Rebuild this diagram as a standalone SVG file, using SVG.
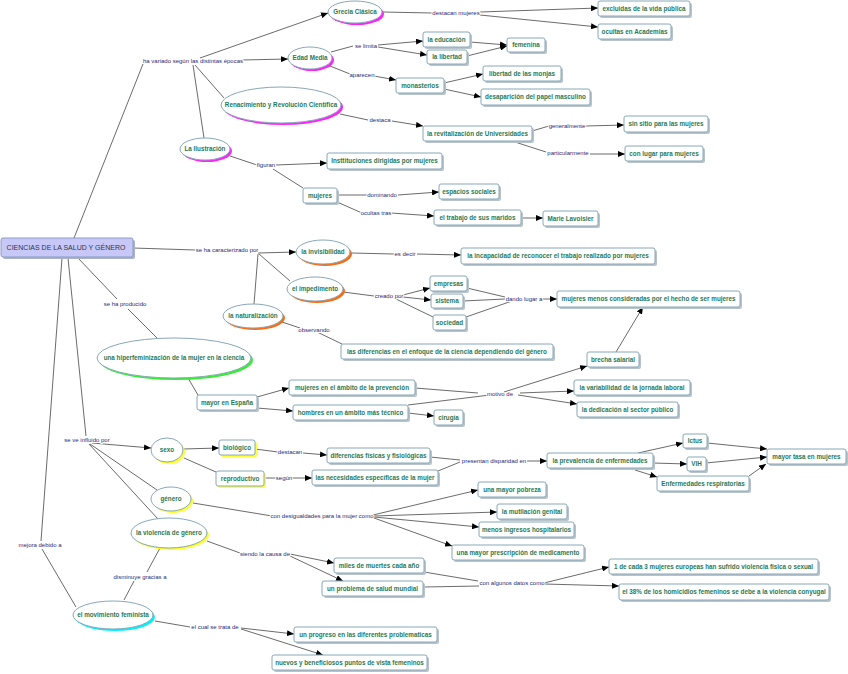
<svg xmlns="http://www.w3.org/2000/svg" width="848" height="674" viewBox="0 0 848 674">
<style>
.bg{fill:#ffffff}
.c line{stroke:#5a5a5a;stroke-width:0.9;fill:none}
.c line.a{marker-end:url(#ah)}
.rs{fill:#b9c3ca}
.r{fill:#ffffff;stroke:#88a8b8;stroke-width:1}
.ys{fill:#ffff33}
.es{stroke:none}
.e{fill:#ffffff;stroke:#88a8b8;stroke-width:1}
.m{fill:#ff22ff}.o{fill:#ff6a10}.g{fill:#33ee33}.y{fill:#ffff22}.cy{fill:#00f0ff}
.t{font-family:"Liberation Sans",Arial,sans-serif;font-size:6.3px;font-weight:bold;fill:#1f7a55;text-anchor:middle}
.l{font-family:"Liberation Sans",Arial,sans-serif;font-size:6px;fill:#2a2a78;text-anchor:middle;paint-order:stroke;stroke:#ffffff;stroke-width:2px;stroke-linejoin:round}
.root{fill:#c8c8f8;stroke:#8a9cc4;stroke-width:1}
.rt{font-family:"Liberation Sans",Arial,sans-serif;font-size:7px;fill:#333344;text-anchor:middle}
</style>
<defs>
<marker id="ah" markerUnits="userSpaceOnUse" markerWidth="7" markerHeight="6" refX="7" refY="3" orient="auto">
<path d="M0,0 L7,3 L0,6 z" fill="#000000"/>
</marker>
</defs>
<rect class="bg" x="0" y="0" width="848" height="674"/>

<g id="connectors" class="c">
<line x1="74" y1="238" x2="143" y2="64"/>
<line class="a" x1="200" y1="58" x2="328" y2="13"/>
<line class="a" x1="242" y1="60" x2="288" y2="59"/>
<line x1="195" y1="65" x2="224" y2="98"/>
<line x1="193" y1="65" x2="204" y2="138"/>
<line x1="383" y1="12" x2="432" y2="13"/>
<line class="a" x1="480" y1="12" x2="598" y2="8"/>
<line class="a" x1="480" y1="15" x2="598" y2="27"/>
<line x1="331" y1="52" x2="353" y2="46"/>
<line class="a" x1="378" y1="45" x2="423" y2="41"/>
<line class="a" x1="378" y1="47" x2="427" y2="55"/>
<line class="a" x1="470" y1="42" x2="507" y2="45"/>
<line class="a" x1="467" y1="56" x2="507" y2="46"/>
<line x1="330" y1="66" x2="350" y2="74"/>
<line class="a" x1="374" y1="76" x2="396" y2="80"/>
<line class="a" x1="444" y1="83" x2="483" y2="74"/>
<line class="a" x1="444" y1="89" x2="481" y2="97"/>
<line x1="340" y1="114" x2="368" y2="120"/>
<line class="a" x1="392" y1="121" x2="423" y2="126"/>
<line x1="532" y1="131" x2="549" y2="126"/>
<line class="a" x1="586" y1="126" x2="624" y2="125"/>
<line x1="515" y1="142" x2="546" y2="152"/>
<line class="a" x1="590" y1="154" x2="625" y2="154"/>
<line x1="230" y1="156" x2="257" y2="165"/>
<line class="a" x1="276" y1="165" x2="327" y2="163"/>
<line x1="273" y1="169" x2="303" y2="188"/>
<line x1="337" y1="195" x2="367" y2="195"/>
<line class="a" x1="398" y1="195" x2="439" y2="192"/>
<line x1="337" y1="202" x2="362" y2="213"/>
<line class="a" x1="391" y1="213" x2="434" y2="216"/>
<line class="a" x1="521" y1="218" x2="543" y2="218"/>
<line x1="133" y1="248" x2="195" y2="250"/>
<line class="a" x1="258" y1="253" x2="296" y2="252"/>
<line x1="259" y1="254" x2="290" y2="281"/>
<line x1="258" y1="254" x2="254" y2="304"/>
<line x1="351" y1="253" x2="394" y2="254"/>
<line class="a" x1="417" y1="254" x2="461" y2="255"/>
<line x1="343" y1="292" x2="374" y2="296"/>
<line class="a" x1="403" y1="295" x2="430" y2="288"/>
<line class="a" x1="403" y1="297" x2="431" y2="300"/>
<line x1="396" y1="299" x2="433" y2="317"/>
<line x1="467" y1="288" x2="505" y2="297"/>
<line x1="463" y1="301" x2="505" y2="299"/>
<line x1="466" y1="317" x2="512" y2="301"/>
<line class="a" x1="542" y1="299" x2="557" y2="299"/>
<line x1="282" y1="322" x2="300" y2="328"/>
<line x1="317" y1="332" x2="342" y2="344"/>
<line class="a" x1="616" y1="352" x2="643" y2="307"/>
<line x1="78" y1="258" x2="117" y2="299"/>
<line x1="128" y1="309" x2="157" y2="338"/>
<line x1="188" y1="378" x2="198" y2="395"/>
<line class="a" x1="257" y1="397" x2="289" y2="388"/>
<line class="a" x1="257" y1="408" x2="293" y2="411"/>
<line x1="415" y1="388" x2="478" y2="393"/>
<line x1="408" y1="405" x2="490" y2="395"/>
<line class="a" x1="504" y1="392" x2="587" y2="366"/>
<line class="a" x1="520" y1="393" x2="574" y2="391"/>
<line class="a" x1="518" y1="395" x2="577" y2="404"/>
<line class="a" x1="408" y1="413" x2="434" y2="416"/>
<line x1="68" y1="258" x2="86" y2="436"/>
<line class="a" x1="92" y1="443" x2="151" y2="448"/>
<line x1="90" y1="444" x2="157" y2="490"/>
<line x1="89" y1="444" x2="158" y2="519"/>
<line class="a" x1="183" y1="449" x2="219" y2="448"/>
<line x1="184" y1="458" x2="216" y2="472"/>
<line x1="255" y1="449" x2="278" y2="452"/>
<line class="a" x1="303" y1="453" x2="327" y2="455"/>
<line x1="264" y1="478" x2="276" y2="478"/>
<line class="a" x1="292" y1="478" x2="312" y2="478"/>
<line x1="430" y1="457" x2="460" y2="460"/>
<line x1="438" y1="471" x2="460" y2="462"/>
<line class="a" x1="527" y1="461" x2="547" y2="461"/>
<line class="a" x1="638" y1="453" x2="683" y2="443"/>
<line class="a" x1="653" y1="463" x2="687" y2="464"/>
<line class="a" x1="635" y1="470" x2="657" y2="477"/>
<line class="a" x1="707" y1="443" x2="767" y2="449"/>
<line class="a" x1="706" y1="463" x2="767" y2="457"/>
<line class="a" x1="749" y1="476" x2="766" y2="464"/>
<line x1="193" y1="503" x2="272" y2="516"/>
<line class="a" x1="373" y1="515" x2="478" y2="490"/>
<line class="a" x1="374" y1="516" x2="497" y2="512"/>
<line class="a" x1="374" y1="517" x2="479" y2="527"/>
<line class="a" x1="374" y1="518" x2="452" y2="546"/>
<line x1="207" y1="541" x2="240" y2="553"/>
<line class="a" x1="290" y1="554" x2="334" y2="563"/>
<line class="a" x1="290" y1="556" x2="343" y2="581"/>
<line x1="424" y1="572" x2="478" y2="581"/>
<line x1="423" y1="587" x2="479" y2="586"/>
<line class="a" x1="544" y1="583" x2="609" y2="567"/>
<line class="a" x1="544" y1="584" x2="619" y2="586"/>
<line x1="124" y1="600" x2="134" y2="581"/>
<line x1="147" y1="572" x2="160" y2="548"/>
<line x1="62" y1="258" x2="41" y2="541"/>
<line x1="42" y1="549" x2="76" y2="607"/>
<line x1="155" y1="621" x2="190" y2="627"/>
<line class="a" x1="241" y1="628" x2="294" y2="634"/>
<line class="a" x1="241" y1="629" x2="323" y2="655"/>
</g>

<g id="linking-phrases">
<text class="l" x="193" y="63">ha variado según las distintas épocas</text>
<text class="l" x="456" y="15">destacan mujeres</text>
<text class="l" x="366" y="48">se limita</text>
<text class="l" x="362" y="77">aparecen</text>
<text class="l" x="380" y="122">destaca</text>
<text class="l" x="567" y="128">generalmente</text>
<text class="l" x="568" y="155">particularmente</text>
<text class="l" x="266" y="167">figuran</text>
<text class="l" x="382" y="197">dominando</text>
<text class="l" x="376" y="215">ocultas tras</text>
<text class="l" x="227" y="252">se ha caracterizado por</text>
<text class="l" x="405" y="256">es decir</text>
<text class="l" x="389" y="298">creado por</text>
<text class="l" x="524" y="301">dando lugar a</text>
<text class="l" x="125" y="306">se ha producido</text>
<text class="l" x="314" y="332">observando</text>
<text class="l" x="500" y="396">motivo de</text>
<text class="l" x="87" y="442">se ve influido por</text>
<text class="l" x="290" y="454">destacan</text>
<text class="l" x="284" y="480">según</text>
<text class="l" x="494" y="463">presentan disparidad en</text>
<text class="l" x="322" y="518">con desigualdades para la mujer como</text>
<text class="l" x="40" y="547">mejora debido a</text>
<text class="l" x="265" y="556">siendo la causa de</text>
<text class="l" x="140" y="579">disminuye gracias a</text>
<text class="l" x="512" y="585">con algunos datos como</text>
<text class="l" x="215" y="629">el cual se trata de</text>
</g>

<g id="n-root"><rect x="3" y="240" width="132" height="19" rx="2" fill="#aab4c4"/><rect class="root" x="1" y="238" width="132" height="19" rx="2"/><text class="rt" x="66" y="250.4">CIENCIAS DE LA SALUD Y GÉNERO</text></g>

<g id="n-grecia"><ellipse class="es m" cx="357" cy="14" rx="27" ry="11"/><ellipse class="e" cx="355" cy="12" rx="27" ry="11"/><text class="t" x="355" y="14.2">Grecia Clásica</text></g>
<g id="n-edad"><ellipse class="es m" cx="312" cy="60" rx="22" ry="11"/><ellipse class="e" cx="310" cy="58" rx="22" ry="11"/><text class="t" x="310" y="60.2">Edad Media</text></g>
<g id="n-renac"><ellipse class="es m" cx="283" cy="107" rx="60" ry="18"/><ellipse class="e" cx="281" cy="105" rx="60" ry="18"/><text class="t" x="281" y="107.2">Renacimiento y Revolución Científica</text></g>
<g id="n-ilus"><ellipse class="es m" cx="207" cy="151" rx="25" ry="11"/><ellipse class="e" cx="205" cy="149" rx="25" ry="11"/><text class="t" x="205" y="151.2">La Ilustración</text></g>
<g id="n-invis"><ellipse class="es o" cx="325" cy="254" rx="27" ry="12"/><ellipse class="e" cx="323" cy="252" rx="27" ry="12"/><text class="t" x="323" y="254.2">la invisibilidad</text></g>
<g id="n-imped"><ellipse class="es o" cx="317" cy="291" rx="28" ry="12"/><ellipse class="e" cx="315" cy="289" rx="28" ry="12"/><text class="t" x="315" y="291.2">el impedimento</text></g>
<g id="n-natur"><ellipse class="es o" cx="255" cy="318" rx="30" ry="12"/><ellipse class="e" cx="253" cy="316" rx="30" ry="12"/><text class="t" x="253" y="318.2">la naturalización</text></g>
<g id="n-hiper"><ellipse class="es g" cx="176" cy="360" rx="77" ry="20"/><ellipse class="e" cx="174" cy="358" rx="77" ry="20"/><text class="t" x="174" y="360.2">una hiperfeminización de la mujer en la ciencia</text></g>
<g id="n-sexo"><ellipse class="es y" cx="169" cy="452" rx="16" ry="12"/><ellipse class="e" cx="167" cy="450" rx="16" ry="12"/><text class="t" x="167" y="452.2">sexo</text></g>
<g id="n-genero"><ellipse class="es y" cx="173" cy="501" rx="20" ry="12"/><ellipse class="e" cx="171" cy="499" rx="20" ry="12"/><text class="t" x="171" y="501.2">género</text></g>
<g id="n-violencia"><ellipse class="es y" cx="171" cy="535" rx="38" ry="15"/><ellipse class="e" cx="169" cy="533" rx="38" ry="15"/><text class="t" x="169" y="535.2">la violencia de género</text></g>
<g id="n-movim"><ellipse class="es cy" cx="115" cy="617" rx="40" ry="14"/><ellipse class="e" cx="113" cy="615" rx="40" ry="14"/><text class="t" x="113" y="617.2">el movimiento feminista</text></g>

<g id="n1"><rect class="rs" x="600" y="3" width="92" height="15" rx="2"/><rect class="r" x="598" y="1" width="92" height="15" rx="2"/><text class="t" x="644" y="10.7">excluidas de la vida pública</text></g>
<g id="n2"><rect class="rs" x="600" y="26" width="73" height="15" rx="2"/><rect class="r" x="598" y="24" width="73" height="15" rx="2"/><text class="t" x="634.5" y="33.7">ocultas en Academias</text></g>
<g id="n3"><rect class="rs" x="425" y="34" width="47" height="15" rx="2"/><rect class="r" x="423" y="32" width="47" height="15" rx="2"/><text class="t" x="446.5" y="41.7">la educación</text></g>
<g id="n4"><rect class="rs" x="429" y="52" width="40" height="14" rx="2"/><rect class="r" x="427" y="50" width="40" height="14" rx="2"/><text class="t" x="447" y="59.2">la libertad</text></g>
<g id="n5"><rect class="rs" x="509" y="40" width="38" height="14" rx="2"/><rect class="r" x="507" y="38" width="38" height="14" rx="2"/><text class="t" x="526" y="47.2">femenina</text></g>
<g id="n6"><rect class="rs" x="485" y="68" width="78" height="15" rx="2"/><rect class="r" x="483" y="66" width="78" height="15" rx="2"/><text class="t" x="522" y="75.7">libertad de las monjas</text></g>
<g id="n7"><rect class="rs" x="398" y="80" width="48" height="15" rx="2"/><rect class="r" x="396" y="78" width="48" height="15" rx="2"/><text class="t" x="420" y="87.7">monasterios</text></g>
<g id="n8"><rect class="rs" x="483" y="91" width="109" height="16" rx="2"/><rect class="r" x="481" y="89" width="109" height="16" rx="2"/><text class="t" x="535.5" y="99.2">desaparición del papel masculino</text></g>
<g id="n9"><rect class="rs" x="425" y="128" width="109" height="15" rx="2"/><rect class="r" x="423" y="126" width="109" height="15" rx="2"/><text class="t" x="477.5" y="135.7">la revitalización de Universidades</text></g>
<g id="n10"><rect class="rs" x="626" y="118" width="84" height="16" rx="2"/><rect class="r" x="624" y="116" width="84" height="16" rx="2"/><text class="t" x="666" y="126.2">sin sitio para las mujeres</text></g>
<g id="n11"><rect class="rs" x="627" y="148" width="78" height="15" rx="2"/><rect class="r" x="625" y="146" width="78" height="15" rx="2"/><text class="t" x="664" y="155.7">con lugar para mujeres</text></g>
<g id="n12"><rect class="rs" x="329" y="155" width="115" height="16" rx="2"/><rect class="r" x="327" y="153" width="115" height="16" rx="2"/><text class="t" x="384.5" y="163.2">Insttituciones dirigidas por mujeres</text></g>
<g id="n13"><rect class="rs" x="305" y="190" width="34" height="15" rx="2"/><rect class="r" x="303" y="188" width="34" height="15" rx="2"/><text class="t" x="320" y="197.7">mujeres</text></g>
<g id="n14"><rect class="rs" x="441" y="186" width="60" height="15" rx="2"/><rect class="r" x="439" y="184" width="60" height="15" rx="2"/><text class="t" x="469" y="193.7">espacios sociales</text></g>
<g id="n15"><rect class="rs" x="436" y="212" width="87" height="15" rx="2"/><rect class="r" x="434" y="210" width="87" height="15" rx="2"/><text class="t" x="477.5" y="219.7">el trabajo de sus maridos</text></g>
<g id="n16"><rect class="rs" x="545" y="213" width="55" height="15" rx="2"/><rect class="r" x="543" y="211" width="55" height="15" rx="2"/><text class="t" x="570.5" y="220.7">Marie Lavoisier</text></g>
<g id="n17"><rect class="rs" x="463" y="250" width="194" height="16" rx="2"/><rect class="r" x="461" y="248" width="194" height="16" rx="2"/><text class="t" x="558" y="258.2">la incapacidad de reconocer el trabajo realizado por mujeres</text></g>
<g id="n18"><rect class="rs" x="432" y="278" width="37" height="15" rx="2"/><rect class="r" x="430" y="276" width="37" height="15" rx="2"/><text class="t" x="448.5" y="285.7">empresas</text></g>
<g id="n19"><rect class="rs" x="433" y="296" width="32" height="14" rx="2"/><rect class="r" x="431" y="294" width="32" height="14" rx="2"/><text class="t" x="447" y="303.2">sistema</text></g>
<g id="n20"><rect class="rs" x="435" y="317" width="33" height="15" rx="2"/><rect class="r" x="433" y="315" width="33" height="15" rx="2"/><text class="t" x="449.5" y="324.7">sociedad</text></g>
<g id="n21"><rect class="rs" x="559" y="293" width="183" height="16" rx="2"/><rect class="r" x="557" y="291" width="183" height="16" rx="2"/><text class="t" x="648.5" y="301.2">mujeres menos consideradas por el hecho de ser mujeres</text></g>
<g id="n22"><rect class="rs" x="343" y="346" width="212" height="15" rx="2"/><rect class="r" x="341" y="344" width="212" height="15" rx="2"/><text class="t" x="447" y="353.7">las diferencias en el enfoque de la ciencia dependiendo del género</text></g>
<g id="n23"><rect class="rs" x="589" y="354" width="52" height="15" rx="2"/><rect class="r" x="587" y="352" width="52" height="15" rx="2"/><text class="t" x="613" y="361.7">brecha salarial</text></g>
<g id="n24"><rect class="rs" x="199" y="397" width="60" height="15" rx="2"/><rect class="r" x="197" y="395" width="60" height="15" rx="2"/><text class="t" x="227" y="404.7">mayor en España</text></g>
<g id="n25"><rect class="rs" x="291" y="382" width="126" height="15" rx="2"/><rect class="r" x="289" y="380" width="126" height="15" rx="2"/><text class="t" x="352" y="389.7">mujeres en el ámbito de la prevención</text></g>
<g id="n26"><rect class="rs" x="295" y="407" width="115" height="15" rx="2"/><rect class="r" x="293" y="405" width="115" height="15" rx="2"/><text class="t" x="350.5" y="414.7">hombres en un ámbito más técnico</text></g>
<g id="n27"><rect class="rs" x="436" y="412" width="29" height="15" rx="2"/><rect class="r" x="434" y="410" width="29" height="15" rx="2"/><text class="t" x="448.5" y="419.7">cirugía</text></g>
<g id="n28"><rect class="rs" x="576" y="382" width="116" height="15" rx="2"/><rect class="r" x="574" y="380" width="116" height="15" rx="2"/><text class="t" x="632" y="389.7">la variabilidad de la jornada laboral</text></g>
<g id="n29"><rect class="rs" x="579" y="404" width="101" height="15" rx="2"/><rect class="r" x="577" y="402" width="101" height="15" rx="2"/><text class="t" x="627.5" y="411.7">la dedicación al sector público</text></g>
<g id="n30"><rect class="ys" x="221" y="442" width="36" height="15" rx="2"/><rect class="r" x="219" y="440" width="36" height="15" rx="2"/><text class="t" x="237" y="449.7">biológico</text></g>
<g id="n31"><rect class="ys" x="218" y="473" width="48" height="15" rx="2"/><rect class="r" x="216" y="471" width="48" height="15" rx="2"/><text class="t" x="240" y="480.7">reproductivo</text></g>
<g id="n32"><rect class="rs" x="329" y="450" width="103" height="15" rx="2"/><rect class="r" x="327" y="448" width="103" height="15" rx="2"/><text class="t" x="378.5" y="457.7">diferencias físicas y fisiológicas</text></g>
<g id="n33"><rect class="rs" x="314" y="472" width="126" height="15" rx="2"/><rect class="r" x="312" y="470" width="126" height="15" rx="2"/><text class="t" x="375" y="479.7">las necesidades específicas de la mujer</text></g>
<g id="n34"><rect class="rs" x="549" y="455" width="106" height="15" rx="2"/><rect class="r" x="547" y="453" width="106" height="15" rx="2"/><text class="t" x="600" y="462.7">la prevalencia de enfermedades</text></g>
<g id="n35"><rect class="rs" x="685" y="436" width="24" height="14" rx="2"/><rect class="r" x="683" y="434" width="24" height="14" rx="2"/><text class="t" x="695" y="443.2">Ictus</text></g>
<g id="n36"><rect class="rs" x="689" y="459" width="19" height="14" rx="2"/><rect class="r" x="687" y="457" width="19" height="14" rx="2"/><text class="t" x="696.5" y="466.2">VIH</text></g>
<g id="n37"><rect class="rs" x="659" y="478" width="92" height="15" rx="2"/><rect class="r" x="657" y="476" width="92" height="15" rx="2"/><text class="t" x="703" y="485.7">Enfermedades respiratorias</text></g>
<g id="n38"><rect class="rs" x="769" y="451" width="79" height="15" rx="2"/><rect class="r" x="767" y="449" width="79" height="15" rx="2"/><text class="t" x="806.5" y="458.7">mayor tasa en mujeres</text></g>
<g id="n39"><rect class="rs" x="480" y="484" width="68" height="15" rx="2"/><rect class="r" x="478" y="482" width="68" height="15" rx="2"/><text class="t" x="512" y="491.7">una mayor pobreza</text></g>
<g id="n40"><rect class="rs" x="499" y="506" width="70" height="15" rx="2"/><rect class="r" x="497" y="504" width="70" height="15" rx="2"/><text class="t" x="532" y="513.7">la mutilación genital</text></g>
<g id="n41"><rect class="rs" x="481" y="524" width="95" height="15" rx="2"/><rect class="r" x="479" y="522" width="95" height="15" rx="2"/><text class="t" x="526.5" y="531.7">menos ingresos hospitalarios</text></g>
<g id="n42"><rect class="rs" x="454" y="547" width="132" height="15" rx="2"/><rect class="r" x="452" y="545" width="132" height="15" rx="2"/><text class="t" x="518" y="554.7">una mayor prescripción de medicamento</text></g>
<g id="n43"><rect class="rs" x="336" y="560" width="90" height="15" rx="2"/><rect class="r" x="334" y="558" width="90" height="15" rx="2"/><text class="t" x="379" y="567.7">miles de muertes cada año</text></g>
<g id="n44"><rect class="rs" x="324" y="583" width="101" height="15" rx="2"/><rect class="r" x="322" y="581" width="101" height="15" rx="2"/><text class="t" x="372.5" y="590.7">un problema de salud mundial</text></g>
<g id="n45"><rect class="rs" x="611" y="561" width="209" height="15" rx="2"/><rect class="r" x="609" y="559" width="209" height="15" rx="2"/><text class="t" x="713.5" y="568.7">1 de cada 3 mujeres europeas han sufrido violencia física o sexual</text></g>
<g id="n46"><rect class="rs" x="621" y="586" width="210" height="16" rx="2"/><rect class="r" x="619" y="584" width="210" height="16" rx="2"/><text class="t" x="724" y="594.2">el 38% de los homicidios femeninos se debe a la violencia conyugal</text></g>
<g id="n47"><rect class="rs" x="296" y="629" width="143" height="15" rx="2"/><rect class="r" x="294" y="627" width="143" height="15" rx="2"/><text class="t" x="365.5" y="636.7">un progreso en las diferentes problematicas</text></g>
<g id="n48"><rect class="rs" x="274" y="657" width="155" height="15" rx="2"/><rect class="r" x="272" y="655" width="155" height="15" rx="2"/><text class="t" x="349.5" y="664.7">nuevos y beneficiosos puntos de vista femeninos</text></g>
</svg>
